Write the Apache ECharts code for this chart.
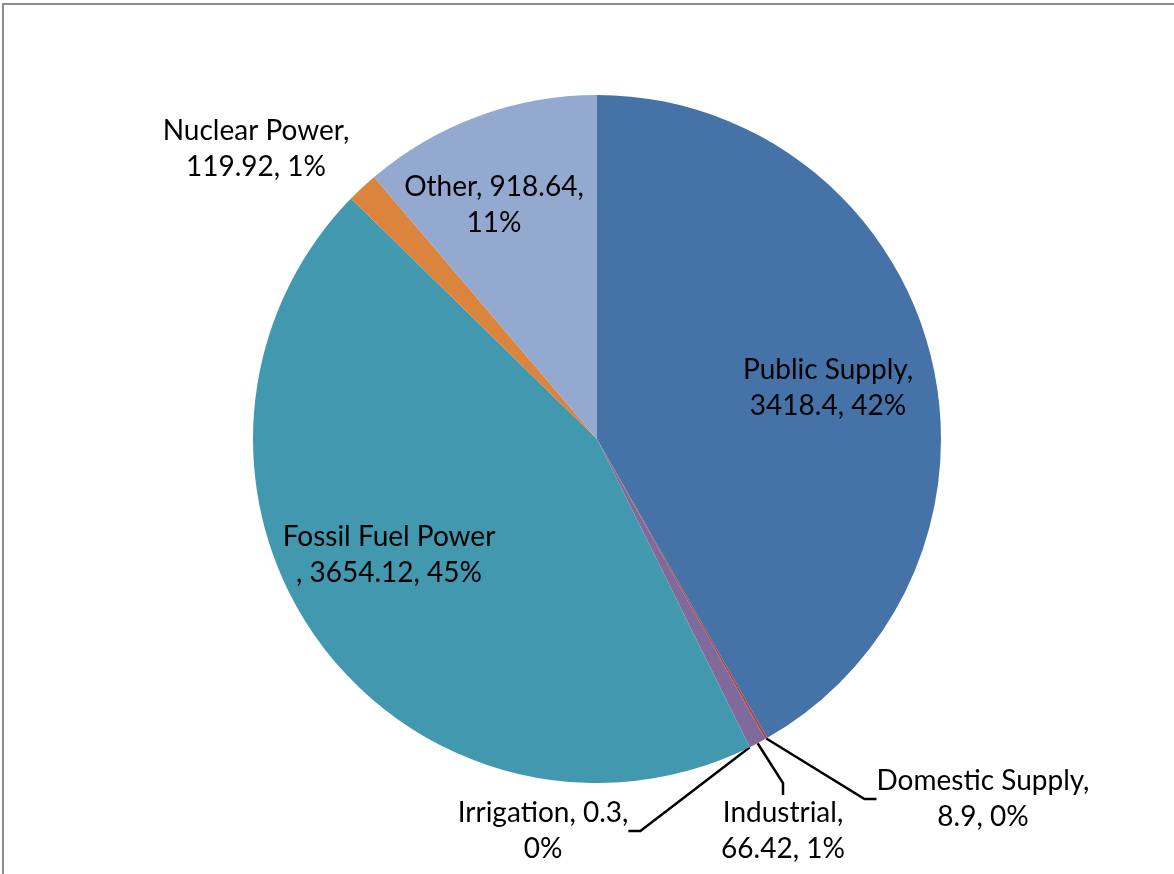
<!DOCTYPE html>
<html>
<head>
<meta charset="utf-8">
<script src="https://cdn.jsdelivr.net/npm/echarts@6/dist/echarts.min.js"></script>
<style>
html,body{margin:0;padding:0;background:#fff;}
#frame{position:absolute;left:2px;top:3px;width:1180px;height:880px;border-top:2px solid #8c8c8c;border-left:2px solid #8c8c8c;box-sizing:border-box;}
#chart{position:absolute;left:0;top:0;width:1174px;height:874px;}
</style>
</head>
<body>
<div id="frame"></div>
<div id="chart"></div>
<script>
// ---- data ----
var categories = ['Public Supply', 'Domestic Supply', 'Industrial', 'Irrigation', 'Fossil Fuel Power', 'Nuclear Power', 'Other'];
var values = [3418.4, 8.9, 66.42, 0.3, 3654.12, 119.92, 918.64];
// where each label wraps: 'afterValue' = "Name, value,\npct", 'afterName' = "Name,\nvalue, pct", 'beforeComma' = "Name\n, value, pct"
var labelWrap = ['afterName', 'afterName', 'afterName', 'afterValue', 'beforeComma', 'afterName', 'afterValue'];

// ---- styles / layout ----
var colors = ['#4572A7', '#AA4643', '#80699B', '#89A54E', '#4198AF', '#DB843D', '#93A9CF'];
var labelCenters = [[828, 388], [983, 799], [783, 831], [543, 831], [389, 555], [256, 149], [494, 205]];
var outsideLabel = [false, true, true, true, false, true, false];
var showLine = [false, true, true, true, false, false, false];

var chart = echarts.init(document.getElementById('chart'), null, {renderer: 'canvas'});

var seriesData = categories.map(function (name, i) {
  return {
    name: name,
    value: values[i],
    itemStyle: {color: colors[i]},
    label: {position: outsideLabel[i] ? 'outside' : 'inside'},
    labelLine: {show: showLine[i]}
  };
});

chart.setOption({
  animation: false,
  series: [{
    type: 'pie',
    center: [597, 439],
    radius: [0, 344],
    startAngle: 90,
    clockwise: true,
    percentPrecision: 0,
    avoidLabelOverlap: false,
    data: seriesData,
    itemStyle: {borderWidth: 0},
    label: {
      show: true,
      color: '#000',
      fontFamily: 'Lato',
      fontSize: 28,
      lineHeight: 36,
      align: 'center',
      formatter: function (p) {
        var w = labelWrap[p.dataIndex];
        var v = String(p.value);
        var pct = p.percent + '%';
        if (w === 'afterValue') return p.name + ', ' + v + ',\n' + pct;
        if (w === 'beforeComma') return p.name + '\n, ' + v + ', ' + pct;
        return p.name + ',\n' + v + ', ' + pct;
      }
    },
    labelLine: {
      show: true,
      length: 20,
      length2: 12,
      lineStyle: {color: '#000', width: 2.5}
    },
    labelLayout: function (params) {
      var c = labelCenters[params.dataIndex];
      return {x: c[0], y: c[1], align: 'center', verticalAlign: 'middle'};
    }
  }]
});
</script>
</body>
</html>
